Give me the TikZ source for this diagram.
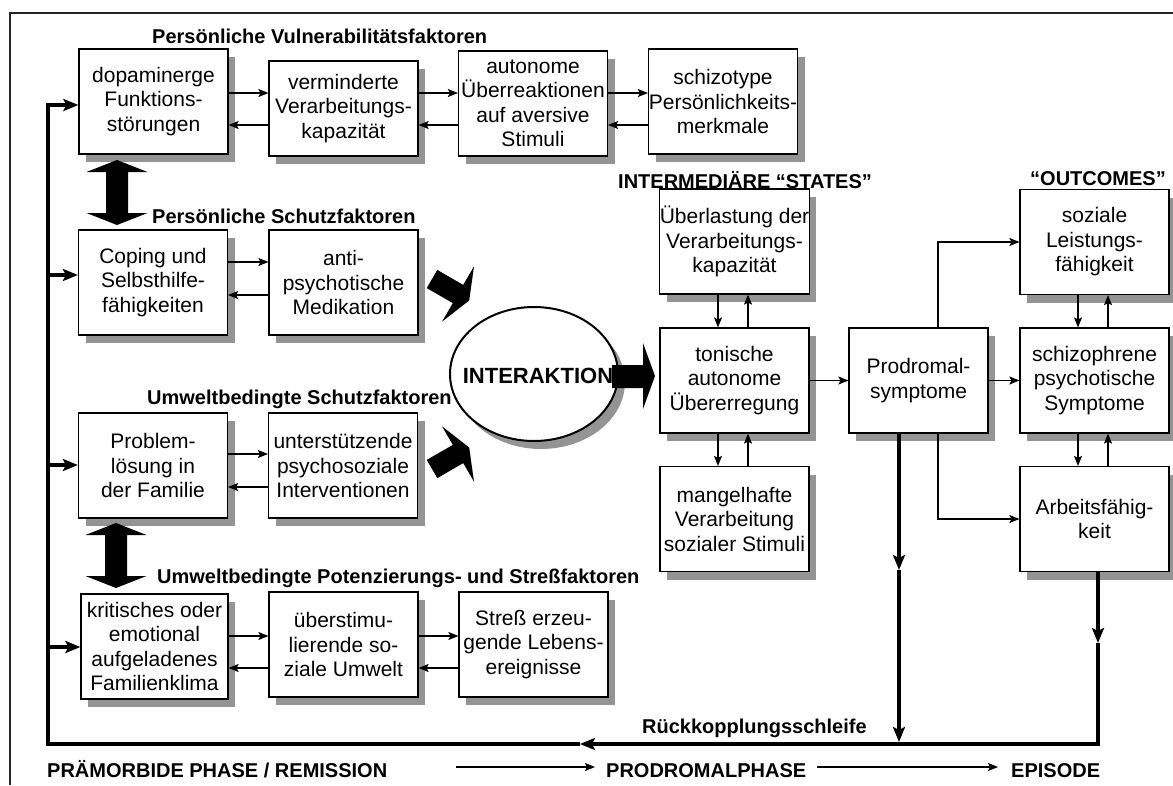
\documentclass[tikz,border=0pt]{standalone}
\usepackage{fontspec}
\setmainfont{Liberation Sans}
\usetikzlibrary{arrows.meta,shapes.geometric,shadows}

\begin{document}
\begin{tikzpicture}[x=1pt,y=-1pt,
  box/.style={draw=black, fill=white, line width=1.2pt, inner sep=0pt, align=center,
    minimum width=149pt, minimum height=105pt, font=\fontsize{21}{24.5}\selectfont,
    general shadow={fill=black!42, shadow xshift=7pt, shadow yshift=-8pt}},
  title/.style={anchor=base west, inner sep=0pt, font=\fontsize{20}{24}\selectfont\bfseries},
  arr/.style={line width=1.1pt, -{Stealth[length=10pt,width=8pt,inset=2pt]}},
  fb/.style={line width=3.2pt},
  fbarr/.style={line width=3.2pt, -{Stealth[length=15pt,width=12pt,inset=3pt]}},
  fat/.style={fill=black, draw=none},
]
\useasboundingbox (0,0) rectangle (1173,785);

% outer frame (top and left edges)
\draw[line width=1.4pt, black!85] (10,785) -- (10,13) -- (1173,13);

% ---------- group titles ----------
\node[title] (t1) at (152,43)  {Persönliche Vulnerabilitätsfaktoren};
\node[title] (t2) at (152,223) {Persönliche Schutzfaktoren};
\node[title] (t3) at (147,404) {Umweltbedingte Schutzfaktoren};
\node[title] (t4) at (157,583) {Umweltbedingte Potenzierungs- und Streßfaktoren};
\node[title] (t5) at (618,188) {INTERMEDIÄRE “STATES”};
\node[title] (t6) at (1030,185) {“OUTCOMES”};
\node[title] (t7) at (642,733) {Rückkopplungsschleife};

% ---------- vulnerability row ----------
\node[box] (A1) at (153.5,101.5) {dopaminerge\\Funktions-\\störungen};
\node[box, minimum height=95pt] (A2) at (343.5,108.5) {verminderte\\Verarbeitungs-\\kapazität};
\node[box] (A3) at (533,103.5) {autonome\\Überreaktionen\\auf aversive\\Stimuli};
\node[box] (A4) at (723,101.5) {schizotype\\Persönlichkeits-\\merkmale};

% ---------- personal protection ----------
\node[box] (B1) at (153,282.5) {Coping und\\Selbsthilfe-\\fähigkeiten};
\node[box] (B2) at (343.5,282.5) {anti-\\psychotische\\Medikation};

% ---------- environmental protection ----------
\node[box] (B3) at (153,465.5) {Problem-\\lösung in\\der Familie};
\node[box] (B4) at (343,465.5) {unterstützende\\psychosoziale\\Interventionen};

% ---------- environmental stressors ----------
\node[box, minimum width=147pt] (D1a) at (154.5,646.5) {kritisches oder\\emotional\\aufgeladenes\\Familienklima};
\node[box] (D2a) at (343.5,644.5) {überstimu-\\lierende so-\\ziale Umwelt};
\node[box] (D3a) at (533.5,644.5) {Streß erzeu-\\gende Lebens-\\ereignisse};

% ---------- intermediate states ----------
\node[box] (C1) at (734.5,241.5) {Überlastung der\\Verarbeitungs-\\kapazität};
\node[box] (C2) at (734.5,380.5) {tonische\\autonome\\Übererregung};
\node[box] (C3) at (734.5,519) {mangelhafte\\Verarbeitung\\sozialer Stimuli};

% ---------- prodromal symptoms and outcomes ----------
\node[box, minimum width=139pt] (P) at (918.5,380.5) {Prodromal-\\symptome};
\node[box] (E1) at (1094.5,242) {soziale\\Leistungs-\\fähigkeit};
\node[box] (E2) at (1094.5,380.5) {schizophrene\\psychotische\\Symptome};
\node[box] (E3) at (1094.5,519) {Arbeitsfähig-\\keit};

% ---------- interaction ----------
\node[ellipse, draw=black, fill=white, line width=2pt, inner sep=0pt,
      minimum width=168pt, minimum height=134pt,
      general shadow={fill=black!42, shadow xshift=7pt, shadow yshift=-8pt}] (inter) at (534,374) {};
\node[inner sep=0pt, font=\fontsize{22}{26}\selectfont\bfseries] (interT) at ([xshift=4pt,yshift=-2pt]inter.center) {INTERAKTION};

% block arrows
\fill[fat] (437.3,269.9) -- (463.2,284.9) -- (474,266.3) -- (469.2,300.5) -- (442,321.7) -- (452.8,303.1) -- (426.75,288.1) -- cycle;
\fill[fat] (437.3,478.1) -- (463.2,463.1) -- (474,481.7) -- (469.2,447.5) -- (442,426.3) -- (452.8,444.9) -- (426.75,459.9) -- cycle;
\fill[fat] (612,365) -- (643,365) -- (643,343) -- (655,376) -- (643,409) -- (643,388) -- (612,388) -- cycle;
\fill[fat] (117,160) -- (147.5,172) -- (128,172) -- (128,213) -- (147.5,213) -- (117,225) -- (86.5,213) -- (106,213) -- (106,172) -- (86.5,172) -- cycle;
\fill[fat] (116,523) -- (146.5,535) -- (127,535) -- (127,576) -- (146.5,576) -- (116,588) -- (85.5,576) -- (105,576) -- (105,535) -- (85.5,535) -- cycle;

% ---------- connector levels ----------
\coordinate (r1a) at (0,93);  \coordinate (r1b) at (0,125);
\coordinate (r2a) at (0,262); \coordinate (r2b) at (0,295);
\coordinate (r3a) at (0,454); \coordinate (r3b) at (0,487);
\coordinate (r4a) at (0,636); \coordinate (r4b) at (0,668);
\coordinate (cd) at (718,0);  \coordinate (cu) at (748,0);
\coordinate (ed) at (1078,0); \coordinate (eu) at (1108,0);
\coordinate (pq) at (938,0);  \coordinate (pt) at (899,0);
\coordinate (et) at (1098,0);

% horizontal pairs
\draw[arr] (A1.east |- r1a) -- (A2.west |- r1a);
\draw[arr] (A2.west |- r1b) -- (A1.east |- r1b);
\draw[arr] (A2.east |- r1a) -- (A3.west |- r1a);
\draw[arr] (A3.west |- r1b) -- (A2.east |- r1b);
\draw[arr] (A3.east |- r1a) -- (A4.west |- r1a);
\draw[arr] (A4.west |- r1b) -- (A3.east |- r1b);

\draw[arr] (B1.east |- r2a) -- (B2.west |- r2a);
\draw[arr] (B2.west |- r2b) -- (B1.east |- r2b);

\draw[arr] (B3.east |- r3a) -- (B4.west |- r3a);
\draw[arr] (B4.west |- r3b) -- (B3.east |- r3b);

\draw[arr] (D1a.east |- r4a) -- (D2a.west |- r4a);
\draw[arr] (D2a.west |- r4b) -- (D1a.east |- r4b);
\draw[arr] (D2a.east |- r4a) -- (D3a.west |- r4a);
\draw[arr] (D3a.west |- r4b) -- (D2a.east |- r4b);

% vertical pairs
\draw[arr] (C1.south -| cd) -- (C2.north -| cd);
\draw[arr] (C2.north -| cu) -- (C1.south -| cu);
\draw[arr] (C2.south -| cd) -- (C3.north -| cd);
\draw[arr] (C3.north -| cu) -- (C2.south -| cu);
\draw[arr] (E1.south -| ed) -- (E2.north -| ed);
\draw[arr] (E2.north -| eu) -- (E1.south -| eu);
\draw[arr] (E2.south -| ed) -- (E3.north -| ed);
\draw[arr] (E3.north -| eu) -- (E2.south -| eu);

% states to prodromal symptoms to outcomes
\draw[arr] (C2.east) -- (P.west);
\draw[arr] (P.east) -- (E2.west);
\draw[arr] (P.north -| pq) |- (E1.west);
\draw[arr] (P.south -| pq) |- (E3.west);

% ---------- feedback loop ----------
\coordinate (m1) at (1098,643);
\coordinate (fbR) at (1098,744);
\coordinate (m2) at (580,744);
\coordinate (fbL) at (48,744);
\coordinate (fbT) at (48,105);
\coordinate (m3) at (899,570);
\coordinate (m4) at (899,742);
\coordinate (l2) at (48,275);
\coordinate (l3) at (48,465);
\coordinate (l4) at (48,647);

\draw[fbarr] (E3.south -| et) -- (m1);
\draw[fbarr, line join=miter] (m1) -- (fbR) -- (m2);
\draw[fbarr, line join=miter] (m2) -- (fbL) -- (fbT) -- (A1.west |- fbT);
\draw[fbarr] (P.south -| pt) -- (m3);
\draw[fbarr] (m3) -- (m4);
\draw[fbarr] (l2) -- (B1.west |- l2);
\draw[fbarr] (l3) -- (B3.west |- l3);
\draw[fbarr] (l4) -- (D1a.west |- l4);

% ---------- phases ----------
\node[title] (ph1) at (47,777) {PRÄMORBIDE PHASE / REMISSION};
\node[title] (ph2) at (606,777) {PRODROMALPHASE};
\node[title] (ph3) at (1011,777) {EPISODE};
\coordinate (ya) at (0,767);
\draw[arr] ([xshift=69pt]ph1.east |- ya) -- ([xshift=-11pt]ph2.west |- ya);
\draw[arr] ([xshift=11pt]ph2.east |- ya) -- ([xshift=-13pt]ph3.west |- ya);
\end{tikzpicture}
\end{document}
